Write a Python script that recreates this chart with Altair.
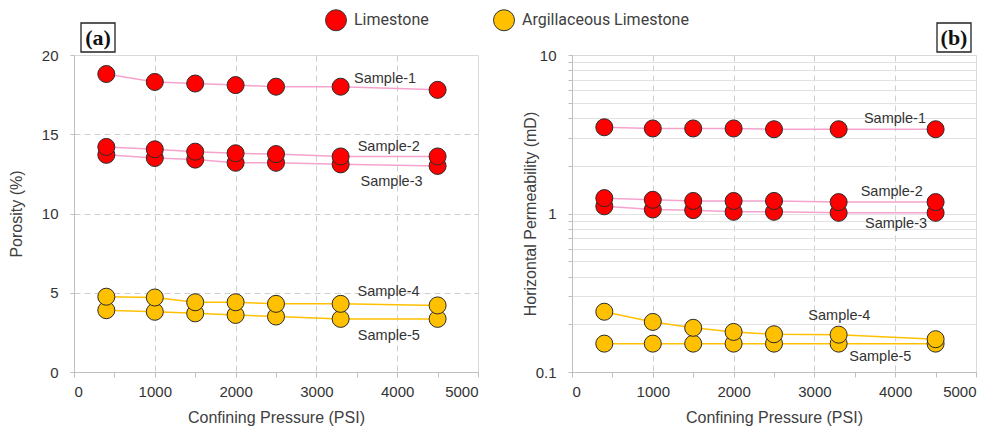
import altair as alt
import pandas as pd

# ---------------- data ----------------
pressure = [400, 1000, 1500, 2000, 2500, 3300, 4500]
samples = ["Sample-1", "Sample-2", "Sample-3", "Sample-4", "Sample-5"]
rock_type = ["Limestone", "Limestone", "Limestone",
             "Argillaceous Limestone", "Argillaceous Limestone"]

porosity_s1 = [18.8, 18.3, 18.2, 18.1, 18.0, 18.0, 17.8]
porosity_s2 = [14.2, 14.05, 13.9, 13.8, 13.75, 13.6, 13.6]
porosity_s3 = [13.7, 13.5, 13.4, 13.2, 13.2, 13.1, 13.0]
porosity_s4 = [4.75, 4.7, 4.4, 4.4, 4.3, 4.3, 4.2]
porosity_s5 = [3.9, 3.8, 3.7, 3.6, 3.5, 3.35, 3.35]

perm_s1 = [3.5, 3.44, 3.44, 3.44, 3.4, 3.4, 3.4]
perm_s2 = [1.25, 1.22, 1.2, 1.2, 1.2, 1.18, 1.18]
perm_s3 = [1.11, 1.06, 1.05, 1.025, 1.025, 1.01, 1.01]
perm_s4 = [0.24, 0.207, 0.19, 0.179, 0.173, 0.172, 0.161]
perm_s5 = [0.151, 0.151, 0.151, 0.151, 0.151, 0.151, 0.151]

porosity = [porosity_s1, porosity_s2, porosity_s3, porosity_s4, porosity_s5]
permeability = [perm_s1, perm_s2, perm_s3, perm_s4, perm_s5]

# annotation positions (data units)
label_a_x = [3850, 3895, 3930, 3893, 3897]
label_a_y = [18.5, 14.17, 12.0, 5.05, 2.26]
label_b_x = [3997, 3957, 4010, 3309, 3816]
label_b_y = [3.96, 1.36, 0.853, 0.224, 0.124]

x_ticks = [0, 500, 1000, 1500, 2000, 2500, 3000, 3500, 4000, 4500, 5000]
ya_ticks = [0, 2.5, 5, 7.5, 10, 12.5, 15, 17.5, 20]
yb_ticks = [0.1, 0.2, 0.3, 0.4, 0.5, 0.6, 0.7, 0.8, 0.9,
            1, 2, 3, 4, 5, 6, 7, 8, 9, 10]

rock_domain = ["Limestone", "Argillaceous Limestone"]
PINK, GOLD, RED = "#f5a3cd", "#ffc000", "#ff0000"
sample_line_colors = [PINK, PINK, PINK, GOLD, GOLD]
fill_colors = [RED, GOLD]

# ---------------- tables ----------------
rows = []
# draw lower samples first so upper ones sit on top
for idx in [4, 3, 2, 1, 0]:
    for p, a, b in zip(pressure, porosity[idx], permeability[idx]):
        rows.append(dict(pressure=p, sample=samples[idx], rock=rock_type[idx],
                         porosity=a, perm=b))
df = pd.DataFrame(rows)
ann_a = pd.DataFrame({"sample": samples, "x": label_a_x, "y": label_a_y})
ann_b = pd.DataFrame({"sample": samples, "x": label_b_x, "y": label_b_y})

FONT = "Liberation Sans"

x_scale = alt.Scale(domain=[0, 5000], nice=False, zero=False)


def x_axis():
    return alt.Axis(
        values=x_ticks, format="d",
        labelExpr="datum.value % 1000 == 0 ? datum.label : ''",
        title="Confining Pressure (PSI)",
        grid=True, gridDash=[6, 4], gridColor="#cfcfcf",
        gridOpacity={"condition": {"test": "datum.value % 1000 != 0 || datum.value == 0 || datum.value == 5000",
                                   "value": 0}, "value": 1},
        tickSize=5, labelPadding=7, titlePadding=10,
    )


ya_axis = alt.Axis(
    values=ya_ticks, format="~g",
    labelExpr="datum.value % 5 == 0 ? datum.label : ''",
    title="Porosity (%)",
    grid=True, gridDash=[6, 4], gridColor="#cfcfcf",
    gridOpacity={"condition": {"test": "datum.value % 5 != 0 || datum.value == 0 || datum.value == 20",
                               "value": 0}, "value": 1},
    tickSize=4, labelPadding=12, titlePadding=17,
)

yb_axis = alt.Axis(
    values=yb_ticks,
    labelExpr="datum.value == 0.1 ? '0.1' : (datum.value == 1 ? '1' : (datum.value == 10 ? '10' : ''))",
    title="Horizontal Permeability (mD)",
    grid=True, gridColor="#e2e2e2",
    gridOpacity={"condition": {"test": "datum.value == 0.1 || datum.value == 10", "value": 0}, "value": 1},
    tickSize=4, labelPadding=12, titlePadding=-3,
)

line_color = alt.Color("sample:N", scale=alt.Scale(domain=samples, range=sample_line_colors), legend=None)


def panel(yfield, yscale, yaxis, ann, tag, box_x, with_legend):
    base_x = alt.X("pressure:Q", scale=x_scale, axis=x_axis())
    lines = alt.Chart(df).mark_line(strokeWidth=1.5).encode(
        x=base_x,
        y=alt.Y(f"{yfield}:Q", scale=yscale, axis=yaxis),
        color=line_color,
    )
    if with_legend:
        leg = alt.Legend(
            orient="none", legendX=251, legendY=-46, direction="horizontal",
            title=None, symbolType="circle", symbolSize=441,
            symbolStrokeColor="#333333", symbolStrokeWidth=1, symbolOpacity=1,
            labelFont="Roboto", labelFontSize=16, labelColor="#404040",
            labelOffset=7, columnPadding=62, padding=0, labelLimit=400,
        )
    else:
        leg = None
    fill = alt.Fill("rock:N", scale=alt.Scale(domain=rock_domain, range=fill_colors), legend=leg)
    pts = alt.Chart(df).mark_point(
        filled=True, shape="circle", size=290, opacity=1,
        stroke="#2b2b2b", strokeWidth=1,
    ).encode(
        x="pressure:Q",
        y=f"{yfield}:Q",
        fill=fill,
    )
    labels = alt.Chart(ann).mark_text(
        font=FONT, fontSize=14.5, color="#333333", align="center", baseline="middle"
    ).encode(x="x:Q", y="y:Q", text="sample:N")
    tag_df = pd.DataFrame({"t": [tag]})
    box = alt.Chart(tag_df).mark_rect(fill="white", stroke="#222222", strokeWidth=1.3).encode(
        x=alt.value(box_x), x2=alt.value(box_x + 34), y=alt.value(-32), y2=alt.value(-3)
    )
    txt = alt.Chart(tag_df).mark_text(
        font="Liberation Serif", fontWeight="bold", fontSize=22, color="#111111",
        align="center", baseline="middle",
    ).encode(x=alt.value(box_x + 17), y=alt.value(-17), text="t:N")
    return alt.layer(lines, pts, labels, box, txt).properties(width=404, height=317)


left = panel("porosity", alt.Scale(domain=[0, 20], nice=False, zero=False), ya_axis,
             ann_a, "(a)", 7, True)
right = panel("perm", alt.Scale(type="log", domain=[0.1, 10], nice=False), yb_axis,
              ann_b, "(b)", 365, False)

chart = alt.hconcat(left, right, spacing=94, bounds="flush").resolve_scale(
    fill="independent", color="independent"
).resolve_legend(
    fill="independent", color="independent"
).properties(
    padding={"left": 7, "top": 8, "right": 2, "bottom": 3}
).configure_view(
    stroke="#d9d9d9", strokeWidth=1
).configure_axis(
    labelFont=FONT, titleFont=FONT, labelFontSize=15, titleFontSize=16,
    labelColor="#333333", titleColor="#404040", titleFontWeight="normal",
    domainColor="#bfbfbf", tickColor="#bfbfbf",
)

chart.save("out.html", embed_options={"renderer": "svg", "actions": False})
